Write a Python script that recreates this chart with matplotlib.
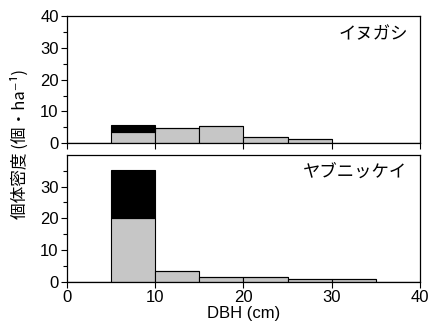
import numpy as np
import matplotlib
matplotlib.use("Agg")
import matplotlib.pyplot as plt

plt.rcParams['font.family'] = ['Liberation Sans', 'Noto Sans CJK JP', 'DejaVu Sans']

# DBH class left edges (cm), bin width 5
bin_left = [0, 5, 10, 15, 20, 25, 30, 35]
width = 5

# イヌガシ
inu_gray = [0, 3.7, 4.8, 5.3, 2.0, 1.3, 0, 0]
inu_black = [0, 2.1, 0, 0, 0, 0, 0, 0]

# ヤブニッケイ
yab_gray = [0, 20.0, 3.3, 1.6, 1.5, 1.0, 0.9, 0]
yab_black = [0, 15.3, 0, 0, 0, 0, 0, 0]

species = ['イヌガシ', 'ヤブニッケイ']

fig = plt.figure(figsize=(4.32, 3.31), dpi=100)
ax1 = fig.add_axes([0.155, 0.567, 0.817, 0.385])
ax2 = fig.add_axes([0.155, 0.149, 0.817, 0.383])

for ax, g, b, name, yt in [(ax1, inu_gray, inu_black, species[0], [0, 10, 20, 30, 40]),
                           (ax2, yab_gray, yab_black, species[1], [0, 10, 20, 30])]:
    ax.bar(bin_left, g, width=width, align='edge', color='#c6c6c6',
           edgecolor='black', linewidth=0.8)
    ax.bar(bin_left, b, bottom=g, width=width, align='edge', color='black',
           edgecolor='black', linewidth=0.8)
    ax.set_xlim(0, 40)
    ax.set_ylim(0, 40)
    ax.set_yticks(yt)
    ax.set_yticks(np.arange(5, 40, 10), minor=True)
    ax.set_xticks([0, 10, 20, 30, 40])
    ax.tick_params(axis='both', direction='out', labelsize=12, length=4, width=0.8, pad=2)
    ax.tick_params(axis='y', which='minor', direction='out', length=3, width=0.8)
    for s in ax.spines.values():
        s.set_linewidth(0.9)
    ax.text(0.965, 0.86, name, transform=ax.transAxes, ha='right', va='center',
            fontsize=12.5, family=['Noto Sans CJK JP', 'DejaVu Sans'])

ax1.tick_params(axis='x', labelbottom=False)
ax2.set_xlabel('DBH (cm)', fontsize=12, labelpad=1)
fig.text(0.045, 0.565, '個体密度 (個・ha⁻¹)', rotation=90, ha='center', va='center',
         fontsize=12, family=['Noto Sans CJK JP', 'DejaVu Sans'])

fig.savefig('out.png', dpi=100)
